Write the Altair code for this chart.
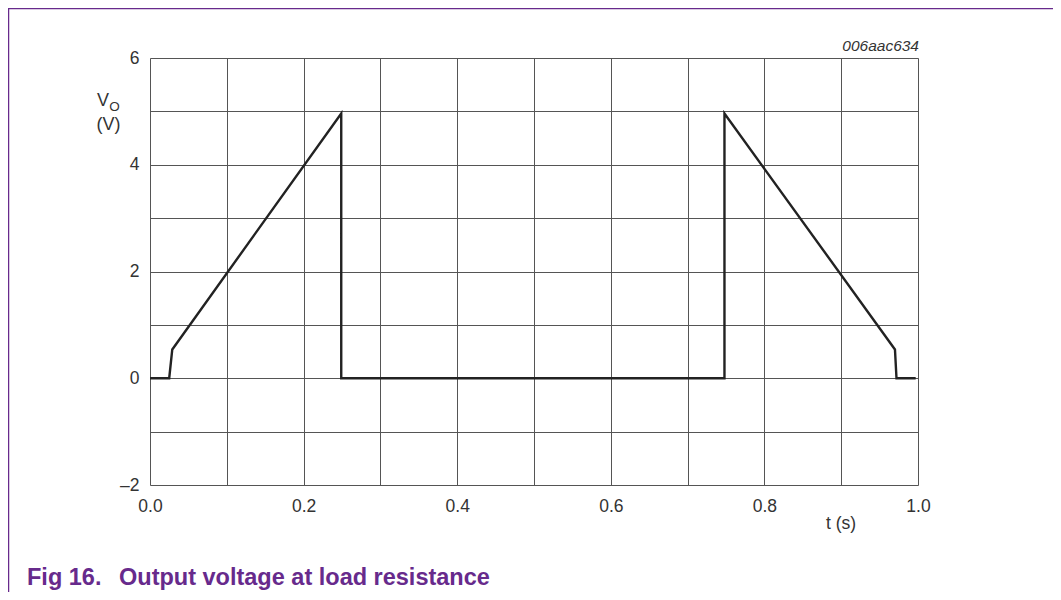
import altair as alt
import pandas as pd

t_values = [0.0, 0.025, 0.029, 0.249, 0.249, 0.748, 0.748, 0.970, 0.972, 0.997]
vo_values = [0.0, 0.0, 0.54, 4.96, 0.0, 0.0, 4.96, 0.54, 0.0, 0.0]
x_ticks = [round(i * 0.1, 1) for i in range(11)]
y_ticks = list(range(-2, 7))

df = pd.DataFrame({"i": range(len(t_values)), "t": t_values, "v": vo_values})

W, H = 768, 427
PL, PT = 142, 50
PR, PB = 1045 - PL - W, 584 - PT - H

PURPLE = "#672A8C"
FONT = "Liberation Sans"
LBL = 17.5

xs = alt.Scale(domain=[0, 1], nice=False, zero=False)
ys = alt.Scale(domain=[-2, 6], nice=False, zero=False)

line = alt.Chart(df).mark_line(color="#222222", strokeWidth=2.4, strokeJoin="miter").encode(
    x=alt.X("t:Q", scale=xs, axis=alt.Axis(
        values=x_ticks, title=None, grid=True, gridColor="#555555", gridWidth=1,
        domain=False, ticks=False, labelPadding=12, labelFontSize=LBL, labelColor="#333333",
        labelFont=FONT, labelFlush=False, labelOverlap=False,
        labelExpr="round(datum.value*10)%2==0 ? format(datum.value,'.1f') : ''")),
    y=alt.Y("v:Q", scale=ys, axis=alt.Axis(
        values=y_ticks, title=None, grid=True, gridColor="#555555", gridWidth=1,
        domain=False, ticks=False, labelPadding=11, labelFontSize=LBL, labelColor="#333333",
        labelFont=FONT, labelFlush=False, labelOverlap=False,
        labelExpr="datum.value%2==0 ? (datum.value<0 ? '\u2013'+abs(datum.value) : ''+datum.value) : ''")),
    order="i:Q",
)

def txt(s, x, y, size=14, **kw):
    return alt.Chart(pd.DataFrame({"s": [s]})).mark_text(
        font=FONT, fontSize=size, color=kw.pop("color", "#333333"), **kw
    ).encode(text="s:N", x=alt.value(x), y=alt.value(y))

frame_top = alt.Chart(pd.DataFrame({"a": [0]})).mark_rule(color=PURPLE, strokeWidth=1.5).encode(
    x=alt.value(-PL), x2=alt.value(W + PR), y=alt.value(-PT + 0.5))
frame_left = alt.Chart(pd.DataFrame({"a": [0]})).mark_rule(color=PURPLE, strokeWidth=1.5).encode(
    x=alt.value(-PL + 0.5), y=alt.value(-PT), y2=alt.value(H + PB))

layers = [
    line,
    txt("V", -47, 43, size=18, align="center", baseline="middle"),
    txt("O", -35.5, 49, size=13.5, align="center", baseline="middle"),
    txt("(V)", -41.5, 67, size=18, align="center", baseline="middle"),
    txt("t (s)", 691, 466, size=17.5, align="center", baseline="middle"),
    txt("006aac634", 769, -12, size=15.5, align="right", baseline="middle", fontStyle="italic"),
    txt("Fig 16.", -123, 527, size=23.5, align="left", baseline="alphabetic",
        fontWeight="bold", color=PURPLE),
    txt("Output voltage at load resistance", -31, 527, size=23.5, align="left",
        baseline="alphabetic", fontWeight="bold", color=PURPLE),
    frame_top,
    frame_left,
]

chart = alt.layer(*layers).properties(
    width=W, height=H,
    autosize=alt.AutoSizeParams(type="none"),
    padding={"left": PL, "top": PT, "right": PR, "bottom": PB},
).configure_view(stroke="#333333", strokeWidth=1.2).configure(background="white")

chart.save("out.html", embed_options={"renderer": "svg", "actions": False})
